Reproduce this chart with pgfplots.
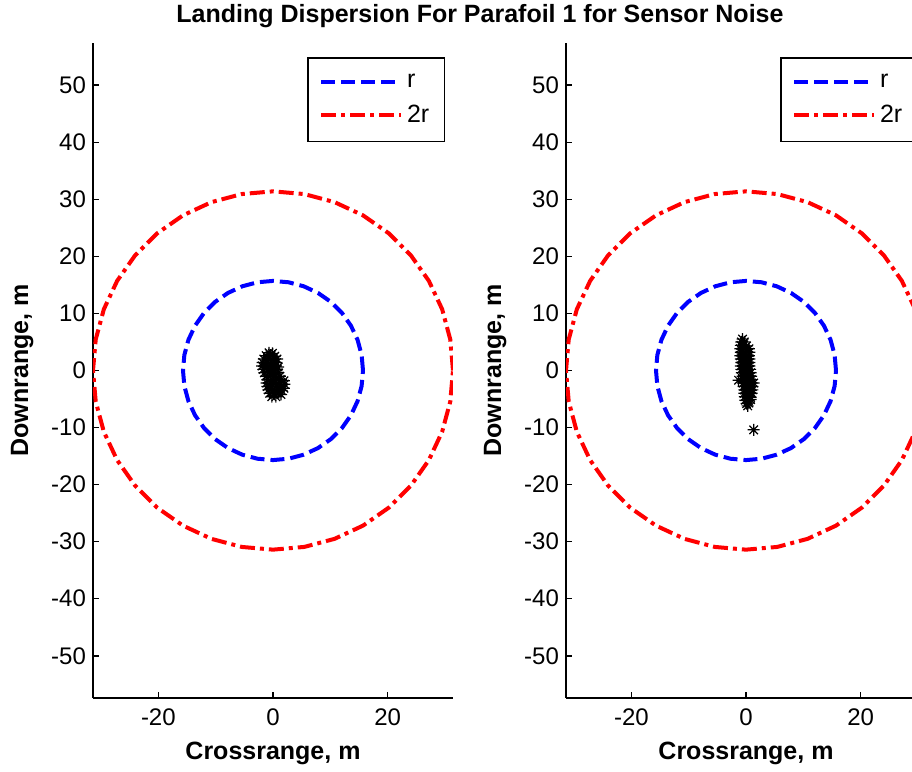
\documentclass[border=0pt]{standalone}
\usepackage{fontspec}
\setmainfont{Liberation Sans}
\usepackage{pgfplots}
\usepackage{pgfplotstable}
\pgfplotsset{compat=1.18}

\pgfdeclareplotmark{mstar}{%
 \pgfpathmoveto{\pgfqpoint{-\pgfplotmarksize}{0pt}}\pgfpathlineto{\pgfqpoint{\pgfplotmarksize}{0pt}}%
 \pgfpathmoveto{\pgfqpoint{0pt}{-\pgfplotmarksize}}\pgfpathlineto{\pgfqpoint{0pt}{\pgfplotmarksize}}%
 \pgfpathmoveto{\pgfqpoint{-.707\pgfplotmarksize}{-.707\pgfplotmarksize}}\pgfpathlineto{\pgfqpoint{.707\pgfplotmarksize}{.707\pgfplotmarksize}}%
 \pgfpathmoveto{\pgfqpoint{-.707\pgfplotmarksize}{.707\pgfplotmarksize}}\pgfpathlineto{\pgfqpoint{.707\pgfplotmarksize}{-.707\pgfplotmarksize}}%
 \pgfusepathqstroke}

\pgfplotstableread{
x y
15.7 0
15.461 2.726
14.753 5.369
13.596 7.85
12.026 10.092
10.092 12.026
7.85 13.596
5.369 14.753
2.726 15.461
0 15.7
-2.726 15.461
-5.369 14.753
-7.85 13.596
-10.092 12.026
-12.026 10.092
-13.596 7.85
-14.753 5.369
-15.461 2.726
-15.7 0
-15.461 -2.726
-14.753 -5.369
-13.596 -7.85
-12.026 -10.092
-10.092 -12.026
-7.85 -13.596
-5.369 -14.753
-2.726 -15.461
0 -15.7
2.726 -15.461
5.369 -14.753
7.85 -13.596
10.092 -12.026
12.026 -10.092
13.596 -7.85
14.753 -5.369
15.461 -2.726
15.7 0
}\circR

\pgfplotstableread{
x y
31.4 0
30.923 5.451
29.507 10.739
27.192 15.7
24.052 20.184
20.184 24.052
15.7 27.192
10.739 29.507
5.451 30.923
0 31.4
-5.451 30.923
-10.739 29.507
-15.7 27.192
-20.184 24.052
-24.052 20.184
-27.192 15.7
-29.507 10.739
-30.923 5.451
-31.4 0
-30.923 -5.451
-29.507 -10.739
-27.192 -15.7
-24.052 -20.184
-20.184 -24.052
-15.7 -27.192
-10.739 -29.507
-5.451 -30.923
0 -31.4
5.451 -30.923
10.739 -29.507
15.7 -27.192
20.184 -24.052
24.052 -20.184
27.192 -15.7
29.507 -10.739
30.923 -5.451
31.4 0
}\circRR

\pgfplotstableread{
x y
-0.7 3.1
-0.1 3.0
-1.2 2.6
-0.4 2.7
0.3 2.5
-1.6 2.0
-0.8 2.1
0.0 1.9
0.7 2.0
-1.8 1.4
-1.0 1.5
-0.2 1.3
0.6 1.4
-1.9 0.8
-1.1 0.9
-0.3 0.7
0.5 0.8
0.9 0.6
-1.7 0.2
-0.9 0.1
-0.1 0.3
0.7 0.2
-1.5 -0.4
-0.7 -0.3
0.1 -0.5
0.9 -0.4
-1.2 -1.0
-0.4 -0.9
0.4 -1.1
1.2 -1.0
-1.0 -1.6
-0.2 -1.7
0.6 -1.5
1.4 -1.6
1.9 -1.8
-1.1 -2.2
-0.3 -2.3
0.5 -2.1
1.3 -2.2
2.0 -2.4
-1.0 -2.8
-0.2 -2.9
0.6 -2.7
1.4 -2.8
1.9 -3.1
-0.8 -3.4
0.0 -3.5
0.8 -3.3
1.5 -3.5
-0.6 -4.0
0.2 -4.1
1.0 -3.9
1.4 -4.2
-0.2 -4.6
0.5 -4.6
}\scatA

\pgfplotstableread{
x y
-0.6 5.5
-0.8 5.0
-0.3 5.0
-0.9 4.4
-0.4 4.5
0.1 4.3
-1.0 3.8
-0.5 3.9
0.0 3.7
0.5 3.8
-0.9 3.2
-0.4 3.1
0.1 3.3
0.6 3.2
-1.0 2.6
-0.5 2.7
0.0 2.5
0.5 2.6
-0.9 2.0
-0.4 2.1
0.1 1.9
0.6 2.0
-0.8 1.4
-0.3 1.5
0.2 1.3
0.6 1.4
-0.9 0.8
-0.4 0.9
0.1 0.7
0.6 0.8
-0.8 0.2
-0.3 0.3
0.2 0.1
0.7 0.2
-0.7 -0.4
-0.2 -0.3
0.3 -0.5
0.8 -0.4
-0.6 -1.0
-0.1 -0.9
0.4 -1.1
0.9 -1.0
-0.6 -1.6
-0.1 -1.5
0.4 -1.7
0.9 -1.6
-1.3 -1.7
-0.5 -2.2
0.0 -2.1
0.5 -2.3
1.0 -2.2
1.35 -2.2
-0.4 -2.8
0.1 -2.7
0.6 -2.9
1.1 -2.8
-0.3 -3.4
0.2 -3.3
0.7 -3.5
1.1 -3.4
-0.3 -4.0
0.2 -4.1
0.7 -3.9
1.0 -4.0
-0.2 -4.6
0.3 -4.5
0.8 -4.7
-0.1 -5.2
0.4 -5.3
0.8 -5.1
0.1 -5.8
0.5 -5.7
0.3 -6.2
1.34 -10.4
}\scatB

\pgfplotsset{
 parastyle/.style={
  scale only axis, width=180pt, height=327.5pt,
  xmin=-31.4, xmax=31.4, ymin=-57.4, ymax=57.4,
  axis x line*=bottom, axis y line*=left,
  axis line style={line width=0.75pt,-},
  tick align=inside, major tick length=3pt,
  tick style={line width=0.75pt, black},
  xtick={-20,0,20}, ytick={-50,-40,...,50},
  /pgf/number format/assume math mode=true,
  ticklabel style={font=\fontsize{12}{14}\selectfont},
  xticklabel style={yshift=-2pt},
  label style={font=\bfseries\fontsize{12.5}{15}\selectfont},
  xlabel={Crossrange, m}, ylabel={Downrange, m},
  xlabel style={at={(axis description cs:0.5,-0.084)}, anchor=center},
  ylabel style={at={(axis description cs:-0.197,0.5)}, anchor=center},
  legend style={at={(0.978,0.9786)}, anchor=north east, draw=black, line width=0.75pt,
    font=\fontsize{12.5}{15}\selectfont, inner xsep=5.5pt, inner ysep=6pt, row sep=3.5pt},
  legend cell align=left,
  legend image code/.code={\draw[##1] (0pt,0pt) -- (40pt,0pt);},
 },
 rline/.style={color=blue, line width=2pt, dash pattern=on 7pt off 3pt},
 rrline/.style={color=red, line width=2pt, dash pattern=on 7.5pt off 2.5pt on 2pt off 2.5pt},
 pts/.style={only marks, mark=mstar, mark size=3pt, black, mark options={line width=0.6pt}},
}

\begin{document}
\begin{tikzpicture}
\begin{axis}[parastyle, at={(46.5pt,37pt)}, anchor=south west]
\addplot[rline] table {\circR};
\addlegendentry{r}
\addplot[rrline] table {\circRR};
\addlegendentry{2r}
\addplot[pts, forget plot] table {\scatA};
\end{axis}
\begin{axis}[parastyle, at={(283pt,37pt)}, anchor=south west]
\addplot[rline] table {\circR};
\addlegendentry{r}
\addplot[rrline] table {\circRR};
\addlegendentry{2r}
\addplot[pts, forget plot] table {\scatB};
\end{axis}
\node[font=\bfseries\fontsize{12.5}{15}\selectfont] at (240pt,378pt) {Landing Dispersion For Parafoil 1 for Sensor Noise};
\pgfresetboundingbox
\path[use as bounding box] (0,0) rectangle (456pt,386pt);
\end{tikzpicture}
\end{document}
